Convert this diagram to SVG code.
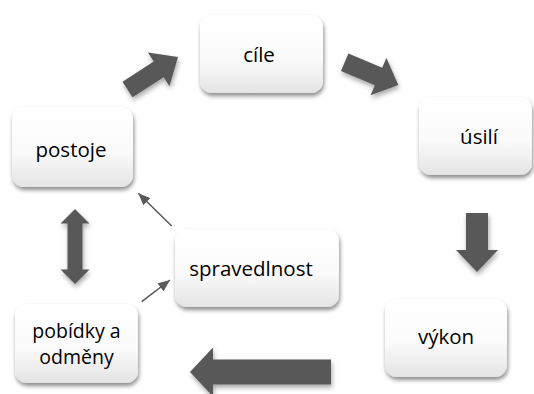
<svg xmlns="http://www.w3.org/2000/svg" width="534" height="394" viewBox="0 0 534 394">
  <defs>
    <linearGradient id="boxFill" x1="0" y1="0" x2="0" y2="1">
      <stop offset="0" stop-color="#ffffff"/>
      <stop offset="0.55" stop-color="#fbfbfb"/>
      <stop offset="1" stop-color="#e4e4e4"/>
    </linearGradient>
    <filter id="boxShadow" x="-20%" y="-20%" width="140%" height="150%">
      <feDropShadow dx="1" dy="3" stdDeviation="2" flood-color="#000000" flood-opacity="0.45"/>
    </filter>
    <filter id="arrowShadow" x="-20%" y="-20%" width="140%" height="150%">
      <feDropShadow dx="1" dy="3" stdDeviation="2.5" flood-color="#000000" flood-opacity="0.35"/>
    </filter>
    <marker id="thinHead" viewBox="0 0 12 10" refX="12" refY="5" markerWidth="12" markerHeight="10" markerUnits="userSpaceOnUse" orient="auto">
      <path d="M0,0 L12,5 L0,10 z" fill="#595959"/>
    </marker>
    <style>
      .box { fill: url(#boxFill); filter: url(#boxShadow); }
      .lbl { font-family: "Open Sans", "Liberation Sans", sans-serif; font-size: 20.5px; fill: #000000; text-anchor: middle; }
      .two { font-size: 19.5px; }
      .block { fill: #595959; filter: url(#arrowShadow); }
      .thin { stroke: #595959; stroke-width: 1.5; fill: none; marker-end: url(#thinHead); }
    </style>
  </defs>
  <rect width="534" height="394" fill="#ffffff"/>

  <g id="connectors">
    <polygon class="block" points="122.5,81.7 153.7,61.6 147.9,52.6 178,57 169.5,86.2 163.7,77.2 132.5,97.3"/>
    <polygon class="block" points="348.4,53.5 382.2,67.8 386.4,57.8 398.3,84.9 370.6,95.2 374.8,85.2 341,70.9"/>
    <polygon class="block" points="466,213 488,213 488,250 498,250 477,272 456,250 466,250"/>
    <polygon class="block" points="190,372 213,347.5 213,359.5 331,359.5 331,384.5 213,384.5 213,396.5"/>
    <polygon class="block" points="75,209 89.5,223.5 82.5,223.5 82.5,269.5 89.5,269.5 75,284 60.5,269.5 67.5,269.5 67.5,223.5 60.5,223.5"/>
    <line class="thin" x1="171.7" y1="226" x2="138.3" y2="193.3"/>
    <line class="thin" x1="141.7" y1="301.7" x2="170" y2="280"/>
  </g>

  <g id="cile">
    <rect class="box" x="200" y="15" width="123" height="78" rx="12"/>
    <text class="lbl" x="259" y="62">cíle</text>
  </g>
  <g id="usili">
    <rect class="box" x="419" y="97" width="113" height="78" rx="12"/>
    <text class="lbl" x="479" y="143.5">úsilí</text>
  </g>
  <g id="postoje">
    <rect class="box" x="12" y="107" width="121" height="80" rx="12"/>
    <text class="lbl" x="71" y="156.7">postoje</text>
  </g>
  <g id="spravedlnost">
    <rect class="box" x="175" y="229" width="164" height="78" rx="12"/>
    <text class="lbl" x="251" y="275.7">spravedlnost</text>
  </g>
  <g id="vykon">
    <rect class="box" x="385" y="299" width="122" height="78" rx="12"/>
    <text class="lbl" x="446" y="344">výkon</text>
  </g>
  <g id="pobidky">
    <rect class="box" x="15" y="304" width="123" height="79" rx="12"/>
    <text class="lbl two" x="76.5" y="337.5">pobídky a</text>
    <text class="lbl two" x="76.5" y="364">odměny</text>
  </g>
</svg>
